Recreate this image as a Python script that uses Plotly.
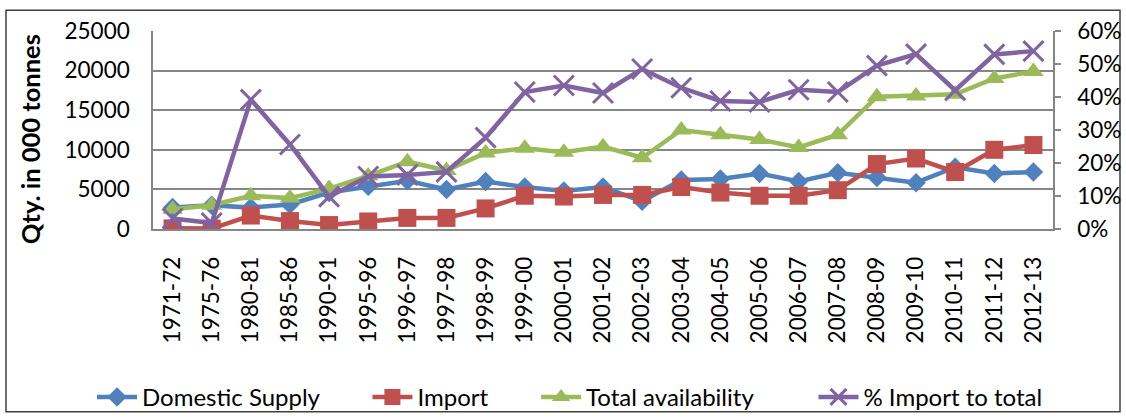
import plotly.graph_objects as go

categories = ["1971-72", "1975-76", "1980-81", "1985-86", "1990-91", "1995-96",
              "1996-97", "1997-98", "1998-99", "1999-00", "2000-01", "2001-02",
              "2002-03", "2003-04", "2004-05", "2005-06", "2006-07", "2007-08",
              "2008-09", "2009-10", "2010-11", "2011-12", "2012-13"]

domestic_supply = [2700, 3000, 2700, 3100, 4600, 5400, 6100, 5000, 6000, 5300, 4800, 5300,
                   3500, 6200, 6300, 7000, 6000, 7100, 6500, 5850, 7800, 7000, 7200]
imports = [80, 50, 1700, 1000, 500, 950, 1400, 1400, 2600, 4200, 4100, 4300,
           4300, 5300, 4600, 4200, 4200, 4900, 8200, 8900, 7200, 10000, 10600]
total_availability = [2500, 3000, 4200, 3900, 5100, 6700, 8500, 7400, 9600, 10200, 9700, 10400,
                      9000, 12500, 11900, 11300, 10300, 11900, 16700, 16800, 17000, 19000, 19900]
pct_import = [3.2, 1.8, 39.2, 25.6, 9.8, 15.9, 16.4, 17.3, 27.7, 41.5, 43.5, 41.2,
              48.5, 42.8, 38.8, 38.5, 42.2, 41.5, 49.5, 53.0, 42.0, 52.9, 53.9]

series_names = ["Domestic Supply", "Import", "Total availability", "% Import to total"]
left_ticks = [0, 5000, 10000, 15000, 20000, 25000]
right_ticks = [0, 0.1, 0.2, 0.3, 0.4, 0.5, 0.6]
y_title = "Qty. in 000 tonnes"

BLUE = "#4F81BD"
RED = "#C0504D"
GREEN = "#9BBB59"
PURPLE = "#8064A2"
FONT = "Lato"
PAD = "\u00a0" * 7

fig = go.Figure()
fig.add_trace(go.Scatter(x=categories, y=domestic_supply, name=series_names[0] + PAD,
                         mode="lines+markers", line=dict(color=BLUE, width=4.5),
                         marker=dict(symbol="diamond", size=15, color=BLUE)))
fig.add_trace(go.Scatter(x=categories, y=imports, name=series_names[1] + PAD,
                         mode="lines+markers", line=dict(color=RED, width=4.5),
                         marker=dict(symbol="square", size=18, color=RED)))
fig.add_trace(go.Scatter(x=categories, y=total_availability, name=series_names[2] + PAD + "\u00a0\u00a0",
                         mode="lines+markers", line=dict(color=GREEN, width=4.5),
                         marker=dict(symbol="triangle-up", size=18, color=GREEN)))
fig.add_trace(go.Scatter(x=categories, y=[p / 100 for p in pct_import], name=series_names[3],
                         mode="lines+markers", line=dict(color=PURPLE, width=4.5),
                         marker=dict(symbol="x-thin", size=20, color=PURPLE,
                                     line=dict(color=PURPLE, width=3)),
                         yaxis="y2"))

fig.update_layout(
    width=1126, height=418,
    margin=dict(l=153, r=73, t=31, b=189, autoexpand=False),
    paper_bgcolor="white", plot_bgcolor="white",
    font=dict(family=FONT, size=22.5, color="black"),
    showlegend=True,
    legend=dict(orientation="h", x=(92 - 153) / 900, xanchor="left", y=-0.85, yanchor="middle",
                font=dict(family=FONT, size=24, color="black"),
                itemwidth=40, tracegroupgap=0, bgcolor="rgba(0,0,0,0)"),
    xaxis=dict(type="category", tickangle=-90, showgrid=False,
               showline=True, linecolor="#868686", linewidth=1.5,
               ticks="", ticklabelstandoff=17,
               tickfont=dict(family=FONT, size=22.5, color="black"),
               range=[-0.5, len(categories) - 0.5], fixedrange=True),
    yaxis=dict(range=[0, 25000], tickvals=left_ticks, ticktext=[str(v) for v in left_ticks],
               showgrid=True, gridcolor="#868686", gridwidth=1.5,
               showline=True, linecolor="#868686", linewidth=1.5,
               zeroline=False, ticks="", ticklabelstandoff=17,
               tickfont=dict(family=FONT, size=22.5, color="black")),
    yaxis2=dict(range=[0, 0.6], tickvals=right_ticks,
                ticktext=[f"{int(round(v * 100))}%" for v in right_ticks],
                overlaying="y", side="right", showgrid=False, zeroline=False,
                showline=True, linecolor="#868686", linewidth=1.5,
                ticks="outside", ticklen=6, tickcolor="#868686", tickwidth=1.5,
                ticklabelstandoff=12,
                tickfont=dict(family=FONT, size=22.5, color="black")),
    annotations=[dict(text=f"<b>{y_title}</b>", xref="paper", yref="paper",
                      x=(30 - 153) / 900, y=(229 - 139) / 198.3,
                      xanchor="center", yanchor="middle", textangle=-90, showarrow=False,
                      font=dict(family=FONT, size=25.5, color="black"))],
    shapes=[dict(type="rect", xref="paper", yref="paper",
                 x0=(6 - 153) / 900, x1=(1120 - 153) / 900,
                 y0=(229 - 412) / 198.3, y1=(229 - 10) / 198.3,
                 line=dict(color="#404040", width=1.5), fillcolor="rgba(0,0,0,0)", layer="below")],
)

fig.write_html("out.html")
